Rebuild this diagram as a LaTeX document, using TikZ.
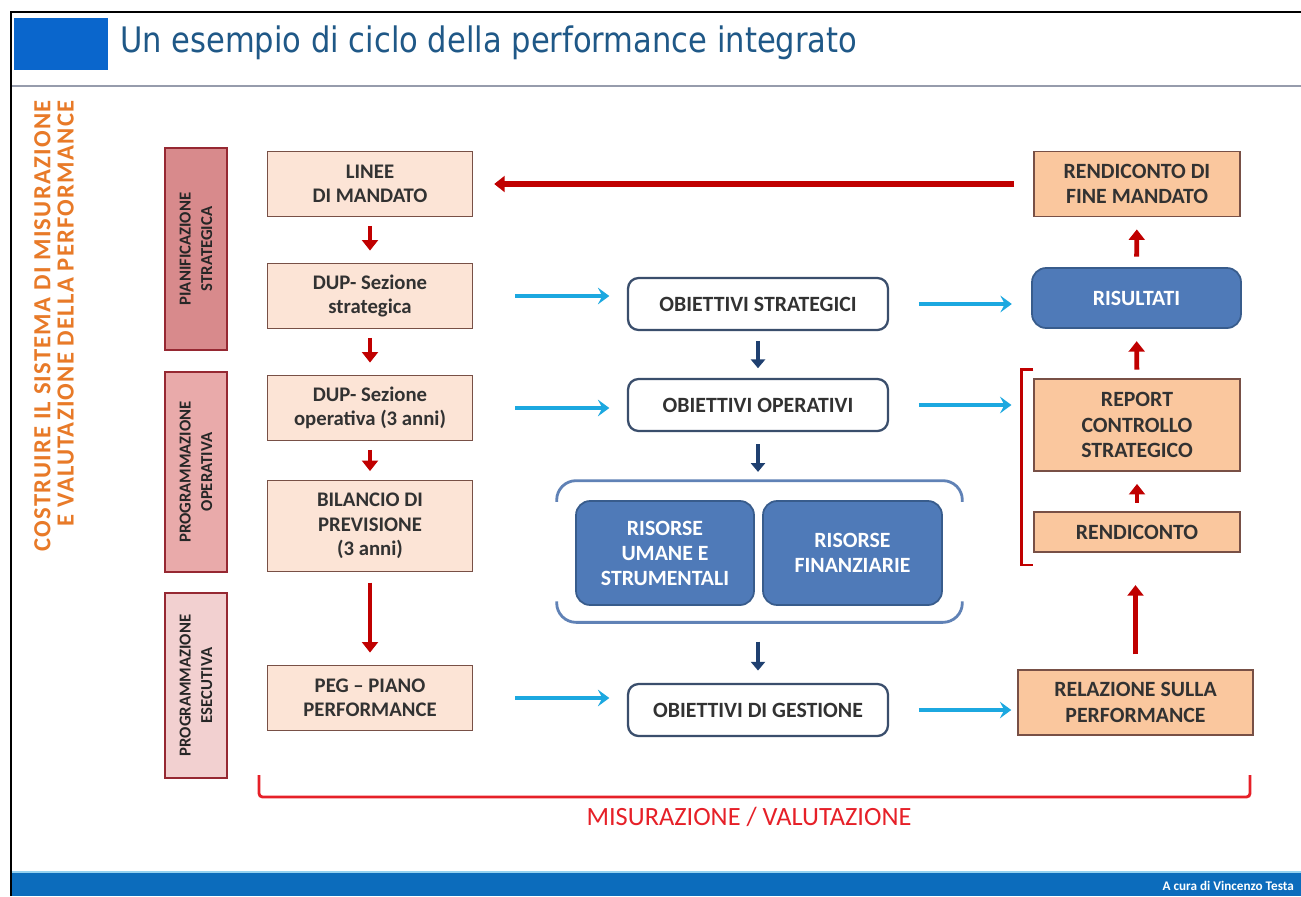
\documentclass[tikz,border=0pt]{standalone}
\usepackage{fontspec}
\setmainfont{Carlito}
\newfontfamily\titlefont{DejaVu Sans}[FakeStretch=0.87]
\newfontfamily\sidefont{Carlito}[LetterSpace=5]
\usetikzlibrary{arrows.meta,positioning}
\definecolor{titleblue}{RGB}{31,88,135}
\definecolor{squareblue}{RGB}{10,102,204}
\definecolor{rulegray}{RGB}{150,156,172}
\definecolor{sideorange}{RGB}{232,122,40}
\definecolor{peach}{RGB}{252,228,214}
\definecolor{apricot}{RGB}{250,199,158}
\definecolor{boxedge}{RGB}{120,80,70}
\definecolor{barone}{RGB}{216,138,140}
\definecolor{bartwo}{RGB}{233,170,170}
\definecolor{barthree}{RGB}{242,208,208}
\definecolor{baredge}{RGB}{150,40,50}
\definecolor{midblue}{RGB}{79,122,184}
\definecolor{midblueedge}{RGB}{56,92,140}
\definecolor{slate}{RGB}{58,78,108}
\definecolor{navy}{RGB}{31,64,112}
\definecolor{skyblue}{RGB}{28,168,224}
\definecolor{groupblue}{RGB}{96,130,182}
\definecolor{darkred}{RGB}{192,0,0}
\definecolor{brightred}{RGB}{230,32,40}
\definecolor{textgray}{RGB}{50,50,50}
\definecolor{footblue}{RGB}{12,108,188}
\definecolor{footline}{RGB}{150,210,240}
\begin{document}
\begin{tikzpicture}[x=0.02cm,y=-0.02cm,
	stepbox/.style={draw=boxedge,fill=peach,line width=0.7pt,minimum width=4.1cm,minimum height=1.3cm,align=center,text=textgray,font=\bfseries\fontsize{11.8}{13.8}\selectfont},
	reportbox/.style={stepbox,fill=apricot,minimum width=4.12cm,font=\bfseries\fontsize{12.4}{14.6}\selectfont},
	goalbox/.style={draw=slate,fill=white,line width=1.3pt,rounded corners=6pt,minimum width=5.2cm,minimum height=1.04cm,text=textgray,font=\bfseries\fontsize{12.4}{14}\selectfont},
	resbox/.style={draw=midblueedge,fill=midblue,line width=1pt,rounded corners=8pt,align=center,text=white,font=\bfseries\fontsize{12.4}{14.2}\selectfont},
	phasebar/.style={draw=baredge,line width=0.8pt,rotate=90,minimum height=1.24cm,align=center,text=black!85,font=\bfseries\fontsize{9.5}{12.3}\selectfont},
	redarrow/.style={darkred,line width=2.8pt,-{Triangle[width=9pt,length=6pt]}},
	navyarrow/.style={navy,line width=2.6pt,-{Triangle[width=8pt,length=5pt]}},
	skyarrow/.style={skyblue,line width=2.2pt,-{Stealth[width=9.5pt,length=6.5pt,inset=2.5pt]}}
	]
					\useasboundingbox (0,0) rectangle (1301,896);
					\fill[white] (0,0) rectangle (1301,896);

					\fill[squareblue] (14,18) rectangle (108,70);
					\node[anchor=west,text=titleblue,font=\titlefont\fontsize{20}{23}\selectfont] (titolo) at (114,43) {Un esempio di ciclo della performance integrato};
					\draw[rulegray,line width=1.3pt] (12,86) -- (1301,86);
					\draw[line width=1.6pt] (11,896) -- (11,12) -- (1301,12);
					\fill[footblue] (12,873) rectangle (1301,896);
					\draw[footline,line width=0.8pt] (12,872) -- (1301,872);
					\node[anchor=east,text=white,font=\bfseries\fontsize{7.5}{9}\selectfont] (autore) at (1300,886) {A cura di Vincenzo Testa};

					\node[rotate=90,align=right,text=sideorange,font=\sidefont\bfseries\fontsize{14}{13.2}\selectfont] (costruire) at (54,326) {COSTRUIRE IL SISTEMA DI MISURAZIONE\\E VALUTAZIONE DELLA PERFORMANCE};

					\node[phasebar,fill=barone,minimum width=4.04cm] (pianif) at (196,249) {PIANIFICAZIONE\\STRATEGICA};
					\node[phasebar,fill=bartwo,minimum width=4cm] (progop) at (196,472) {PROGRAMMAZIONE\\OPERATIVA};
					\node[phasebar,fill=barthree,minimum width=3.7cm] (progese) at (196,685.5) {PROGRAMMAZIONE\\ESECUTIVA};

					\node[stepbox] (linee) at (370,184) {LINEE\\DI MANDATO};
					\node[stepbox] (dupss) at (370,296) {DUP- Sezione\\strategica};
					\node[stepbox] (dupso) at (370,408) {DUP- Sezione\\operativa (3 anni)};
					\node[stepbox,minimum height=1.82cm] (bilancio) at (370,526) {BILANCIO DI\\PREVISIONE\\(3 anni)};
					\node[stepbox] (peg) at (370,698) {PEG -- PIANO\\PERFORMANCE};

					\node[goalbox] (ostrat) at (758,304) {OBIETTIVI STRATEGICI};
					\node[goalbox] (oop) at (758,405) {OBIETTIVI OPERATIVI};
					\node[goalbox] (oges) at (758,710) {OBIETTIVI DI GESTIONE};
					\node[minimum width=8.1cm,minimum height=2.82cm] (risorse) at (759.5,551.5) {};
					\node[resbox,minimum width=3.56cm,minimum height=2.08cm] (umane) at (665,553) {RISORSE\\UMANE E\\STRUMENTALI};
					\node[resbox,minimum width=3.58cm,minimum height=2.08cm] (finanz) at (852.5,553) {RISORSE\\FINANZIARIE};

					\node[reportbox] (rdfm) at (1137,184) {RENDICONTO DI\\FINE MANDATO};
					\node[resbox,minimum width=4.18cm,minimum height=1.2cm] (risultati) at (1136.5,298) {RISULTATI};
					\node[reportbox,minimum height=1.84cm] (report) at (1137,425) {REPORT\\CONTROLLO\\STRATEGICO};
					\node[reportbox,minimum height=0.8cm] (rendic) at (1137,532) {RENDICONTO};
					\node[reportbox,minimum width=4.7cm] (relaz) at (1135.5,702.5) {RELAZIONE SULLA\\PERFORMANCE};

					\draw[redarrow,shorten <=5pt,shorten >=7pt] (linee) -- (dupss);
					\draw[redarrow,shorten <=5pt,shorten >=7pt] (dupss) -- (dupso);
					\draw[redarrow,shorten <=5pt,shorten >=5pt] (dupso) -- (bilancio);
					\draw[redarrow,shorten <=6pt,shorten >=7pt] (bilancio) -- (peg);
					\draw[redarrow,line width=3pt,shorten <=11pt,shorten >=12pt] (rdfm) -- (linee);

					\draw[redarrow,shorten <=6pt,shorten >=7pt] (risultati) -- (rdfm);
					\draw[redarrow,shorten <=5pt,shorten >=7pt] (report) -- (risultati);
					\draw[redarrow,line width=2.4pt,shorten <=5pt,shorten >=7pt] (rendic) -- (report);
					\draw[redarrow,shorten <=8.5pt,shorten >=18.5pt] (relaz.north) -- (relaz.north |- rendic.south);
					\draw[darkred,line width=1.6pt] ([yshift=5pt]report.north west) -- ++(-7pt,0) |- ([yshift=-7pt]rendic.south west);

					\draw[navyarrow,shorten <=5.5pt,shorten >=5.5pt] (ostrat) -- (oop);
					\draw[navyarrow,shorten <=7pt,shorten >=5pt] (oop.south) -- (oop.south |- risorse.north);
					\draw[navyarrow,shorten <=11pt,shorten >=7pt] (oges.north |- risorse.south) -- (oges.north);
					\draw[groupblue,line width=1.6pt,rounded corners=11pt] ([yshift=-12pt]risorse.north west) -- (risorse.north west) -- (risorse.north east) -- ([yshift=-12pt]risorse.north east);
					\draw[groupblue,line width=1.6pt,rounded corners=11pt] ([yshift=12pt]risorse.south west) -- (risorse.south west) -- (risorse.south east) -- ([yshift=12pt]risorse.south east);

					\draw[skyarrow,shorten <=24pt,shorten >=10pt] (dupss.east) -- (dupss.east -| ostrat.west);
					\draw[skyarrow,shorten <=24pt,shorten >=10pt] (dupso.east) -- (dupso.east -| oop.west);
					\draw[skyarrow,shorten <=24pt,shorten >=10pt] (peg.east) -- (peg.east -| oges.west);
					\draw[skyarrow,shorten <=17pt,shorten >=11pt] (ostrat.east) -- (ostrat.east -| risultati.west);
					\draw[skyarrow,shorten <=17pt,shorten >=12.5pt] (oop.east) -- (oop.east -| report.west);
					\draw[skyarrow,shorten <=17pt,shorten >=3.5pt] (oges.east) -- (oges.east -| relaz.west);

					\coordinate (misl) at (259,775);
					\coordinate (misr) at (1250,775);
					\draw[brightred,line width=1.6pt,rounded corners=2pt] (misl) -- ++(0,22) -| (misr);
					\node[text=brightred,font=\fontsize{15}{18}\selectfont] (misura) at (749,817) {MISURAZIONE / VALUTAZIONE};
				\end{tikzpicture}
\end{document}
